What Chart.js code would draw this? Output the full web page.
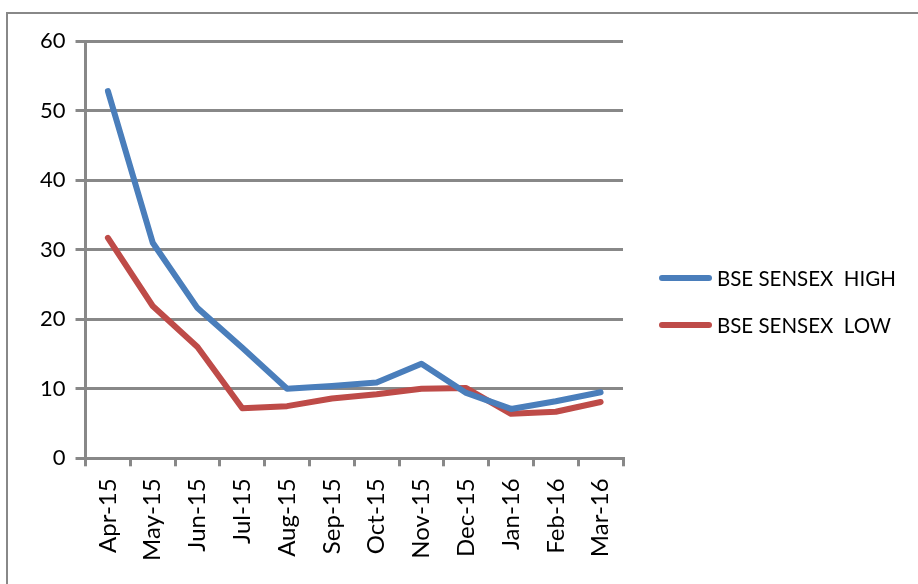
<!DOCTYPE html>
<html>
<head>
<meta charset="utf-8">
<script src="https://cdn.jsdelivr.net/npm/chart.js@4"></script>
<style>
  html, body { margin: 0; padding: 0; background: #fff; }
  #wrap { position: relative; width: 918px; height: 584px; overflow: hidden; }
  #frame { position: absolute; left: 6px; top: 12px; width: 960px; height: 640px; border: 2px solid #888; }
  #chartBox { position: absolute; left: 0; top: 0; width: 918px; height: 584px; }
  #legend { position: absolute; left: 659px; top: 262px; font-family: Lato, "Open Sans", sans-serif; font-size: 20.5px; color: #000; }
  #legend .item { display: flex; align-items: center; height: 32px; margin-bottom: 15px; white-space: pre; }
  #legend .swatch { display: inline-block; width: 53px; height: 6px; border-radius: 3px; margin-right: 5px; }
</style>
</head>
<body>
<div id="wrap">
  <div id="frame"></div>
  <div id="chartBox"><canvas id="sensexChart"></canvas></div>
  <div id="legend"></div>
</div>
<script>
const months = ["Apr-15", "May-15", "Jun-15", "Jul-15", "Aug-15", "Sep-15",
                "Oct-15", "Nov-15", "Dec-15", "Jan-16", "Feb-16", "Mar-16"];
const sensexHigh = [52.8, 31.0, 21.6, 15.9, 10.0, 10.4, 10.9, 13.6, 9.4, 7.1, 8.2, 9.5];
const sensexLow = [31.7, 21.9, 16.0, 7.2, 7.5, 8.6, 9.2, 10.0, 10.1, 6.4, 6.7, 8.1];
const yTicks = [0, 10, 20, 30, 40, 50, 60];

const axisGray = "#888888";
const fontFamily = "Lato, 'Open Sans', sans-serif";

var ctx = document.getElementById("sensexChart").getContext("2d");
var myChart = new Chart(ctx, {
  type: "line",
  data: {
    labels: months,
    datasets: [
      {
        label: "BSE SENSEX  HIGH",
        data: sensexHigh,
        borderColor: "#4A7EBB",
        backgroundColor: "#4A7EBB",
        borderWidth: 6,
        pointRadius: 0,
        borderCapStyle: "round",
        borderJoinStyle: "round",
        tension: 0
      },
      {
        label: "BSE SENSEX  LOW",
        data: sensexLow,
        borderColor: "#BE4B48",
        backgroundColor: "#BE4B48",
        borderWidth: 6,
        pointRadius: 0,
        borderCapStyle: "round",
        borderJoinStyle: "round",
        tension: 0
      }
    ]
  },
  options: {
    responsive: true,
    maintainAspectRatio: false,
    animation: false,
    layout: {
      padding: { left: 30, right: 295, top: 41, bottom: 11 }
    },
    plugins: {
      tooltip: { enabled: false },
      legend: { display: false }
    },
    scales: {
      x: {
        offset: true,
        grid: {
          offset: true,
          drawOnChartArea: false,
          drawTicks: true,
          tickLength: 8,
          color: axisGray,
          lineWidth: 3
        },
        border: { color: axisGray, width: 3 },
        ticks: {
          color: "#000",
          font: { family: fontFamily, size: 24 },
          maxRotation: 90,
          minRotation: 90,
          padding: 12,
          autoSkip: false
        }
      },
      y: {
        min: 0,
        max: 60,
        afterBuildTicks: function (axis) {
          axis.ticks = yTicks.map(function (v) { return { value: v }; });
        },
        grid: {
          color: axisGray,
          lineWidth: 3,
          drawTicks: true,
          tickLength: 10
        },
        border: { color: axisGray, width: 3 },
        ticks: {
          color: "#000",
          font: { family: fontFamily, size: 22 },
          padding: 10
        }
      }
    }
  }
});

// legend built from the chart's own datasets
var legendBox = document.getElementById("legend");
myChart.data.datasets.forEach(function (ds) {
  var item = document.createElement("div");
  item.className = "item";
  var sw = document.createElement("span");
  sw.className = "swatch";
  sw.style.background = ds.borderColor;
  var txt = document.createElement("span");
  txt.textContent = ds.label;
  item.appendChild(sw);
  item.appendChild(txt);
  legendBox.appendChild(item);
});
</script>
</body>
</html>
